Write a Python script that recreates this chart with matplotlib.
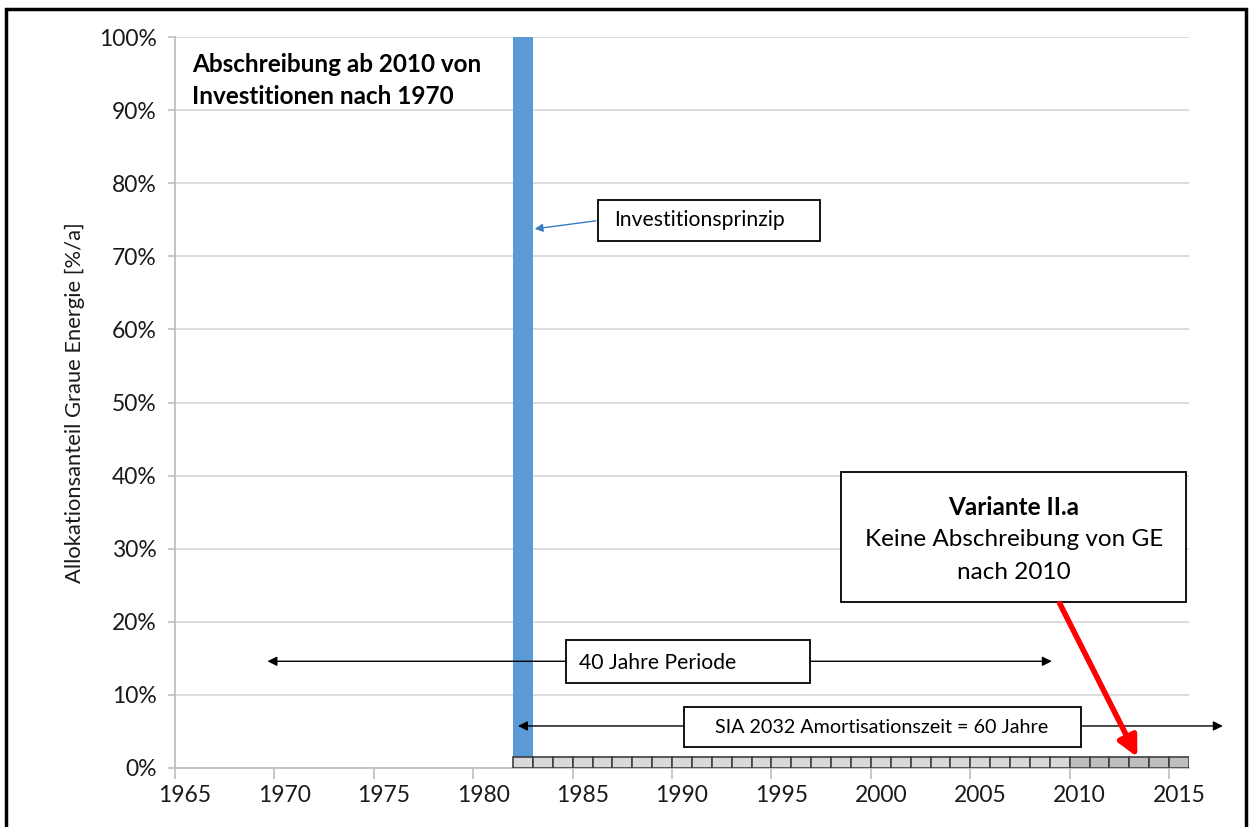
import numpy as np
import matplotlib
matplotlib.use('Agg')
import matplotlib.pyplot as plt
from matplotlib.patches import Rectangle

plt.rcParams['font.family'] = ['Lato', 'DejaVu Sans']

# categories (one column per year)
years = np.arange(1965, 2016)
tick_years = [1965, 1970, 1975, 1980, 1985, 1990, 1995, 2000, 2005, 2010, 2015]
tick_labels = ['1965', '1970', '1975', '1980', '1985', '1990', '1995', '2000', '2005', '2010', '2015']

# investment column
invest_year = [1982]
invest_share = [100]

# yearly marker boxes at the bottom
marker_years_light = [1982, 1983, 1984, 1985, 1986, 1987, 1988, 1989, 1990, 1991, 1992, 1993, 1994, 1995,
                      1996, 1997, 1998, 1999, 2000, 2001, 2002, 2003, 2004, 2005, 2006, 2007, 2008, 2009]
marker_years_dark = [2010, 2011, 2012, 2013, 2014, 2015]
marker_height = 1.5

fig = plt.figure(figsize=[12.49, 8.27], dpi=100)
ax = fig.add_axes([175/1249, 1-768/827, (1189-175)/1249, (768-37)/827])

ax.bar(invest_year, invest_share, width=1.0, color='#5b9bd5', zorder=2)
ax.bar(marker_years_light, [marker_height]*len(marker_years_light), width=1.0,
       color='#d9d9d9', edgecolor='#404040', linewidth=1.2, zorder=3)
ax.bar(marker_years_dark, [marker_height]*len(marker_years_dark), width=1.0,
       color='#bfbfbf', edgecolor='#404040', linewidth=1.2, zorder=3)

ax.set_xlim(1964.5, 2015.5)
ax.set_ylim(0, 100)
ax.set_yticks(np.arange(0, 101, 10))
ax.set_yticklabels([f'{v}%' for v in range(0, 101, 10)], fontsize=16.5, color='#1a1a1a')
ax.set_xticks(tick_years)
ax.set_xticklabels(tick_labels, fontsize=16.5, color='#1a1a1a')
ax.tick_params(axis='x', length=0, pad=12)
ax.set_xticks([y - 0.5 for y in tick_years], minor=True)
ax.tick_params(axis='x', which='minor', length=8, color='#bfbfbf', width=1.2)
ax.tick_params(axis='y', length=5, color='#bfbfbf', width=1.2, pad=8)
ax.grid(axis='y', color='#d9d9d9', linewidth=1.3, zorder=0)
ax.set_axisbelow(True)
for s in ['top', 'right']:
    ax.spines[s].set_visible(False)
for s in ['left', 'bottom']:
    ax.spines[s].set_color('#bfbfbf')
    ax.spines[s].set_linewidth(1.3)

ax.set_ylabel('Allokationsanteil Graue Energie [%/a]', fontsize=15.8, color='#1a1a1a', labelpad=10)

# title text
ax.text(1965.35, 96.3, 'Abschreibung ab 2010 von', fontsize=17.5,
        fontweight='bold', va='center', ha='left', zorder=5)
ax.text(1965.35, 91.8, 'Investitionen nach 1970', fontsize=17.5,
        fontweight='bold', va='center', ha='left', zorder=5)

# Investitionsprinzip
ax.add_patch(Rectangle((1985.8, 72.1), 11.15, 5.6, fc='white', ec='black', lw=1.3, zorder=6))
ax.text(1986.6, 74.9, 'Investitionsprinzip', fontsize=15.2, va='center', ha='left', zorder=7)
ax.annotate('', xy=(1982.45, 73.7), xytext=(1985.8, 74.9),
            arrowprops=dict(arrowstyle='-|>', color='#3a7cc4', lw=1, mutation_scale=12), zorder=5)

# 40 Jahre Periode
ax.annotate('', xy=(1969.15, 14.6), xytext=(2008.6, 14.6),
            arrowprops=dict(arrowstyle='<|-|>', color='black', lw=1, mutation_scale=14,
                            shrinkA=0, shrinkB=0), zorder=5)
ax.add_patch(Rectangle((1984.15, 11.6), 12.3, 5.9, fc='white', ec='black', lw=1.3, zorder=6))
ax.text(1984.8, 14.4, '40 Jahre Periode', fontsize=15.2, va='center', ha='left', zorder=7)

# SIA 2032
ax.annotate('', xy=(1981.75, 5.75), xytext=(2017.2, 5.75),
            arrowprops=dict(arrowstyle='<|-|>', color='black', lw=1, mutation_scale=14,
                            shrinkA=0, shrinkB=0), annotation_clip=False, zorder=5)
ax.add_patch(Rectangle((1990.1, 2.9), 19.95, 5.45, fc='white', ec='black', lw=1.3, zorder=6))
ax.text(2000.05, 5.55, 'SIA 2032 Amortisationszeit = 60 Jahre', fontsize=14.2, va='center',
        ha='center', zorder=7)

# Variante II.a
ax.add_patch(Rectangle((1998.0, 22.7), 17.35, 17.8, fc='white', ec='black', lw=1.3, zorder=6,
                       clip_on=False))
ax.text(2006.7, 35.7, 'Variante II.a', fontsize=17.5, fontweight='bold', va='center', ha='center', zorder=7)
ax.text(2006.7, 31.2, 'Keine Abschreibung von GE', fontsize=17.5, va='center', ha='center', zorder=7)
ax.text(2006.7, 26.7, 'nach 2010', fontsize=17.5, va='center', ha='center', zorder=7)
ax.annotate('', xy=(2012.9, 1.5), xytext=(2009.0, 22.5),
            arrowprops=dict(arrowstyle='-|>', color='#ff0000', lw=4, mutation_scale=30,
                            shrinkA=0, shrinkB=0), zorder=8)

# outer frame
fig.add_artist(Rectangle((6/1249, -0.05), (1246-6)/1249, 1.05 - 9/827, transform=fig.transFigure,
                         fill=False, ec='black', lw=2.5))

fig.savefig('out.png', dpi=100)
